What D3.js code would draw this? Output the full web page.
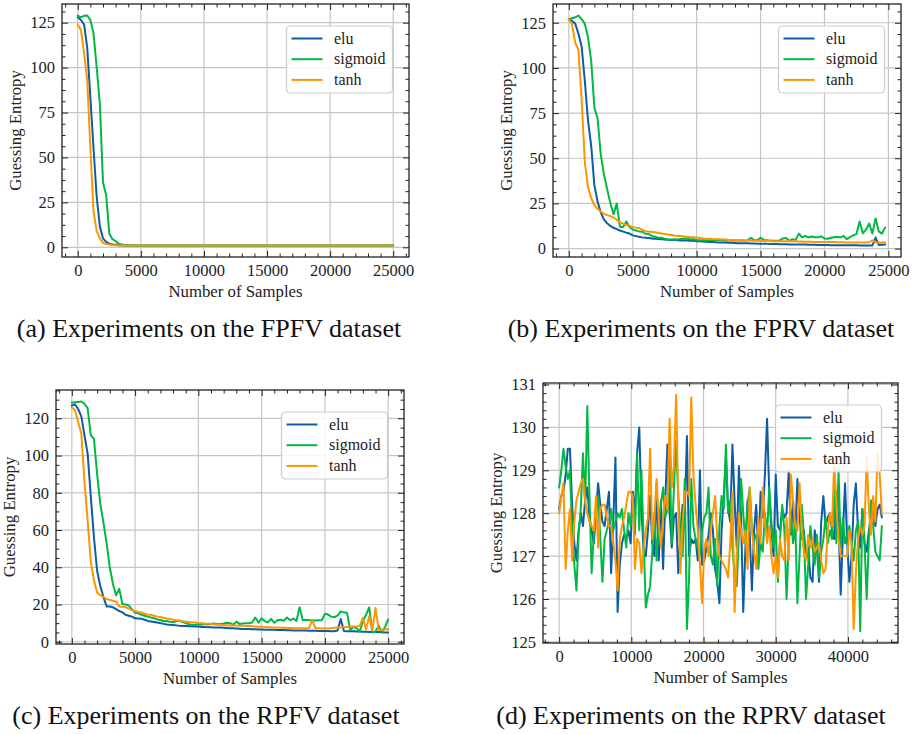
<!DOCTYPE html>
<html>
<head>
<meta charset="utf-8">
<script src="https://cdn.jsdelivr.net/npm/d3@7"></script>
<style>
  body { margin: 0; background: #fff; }
</style>
</head>
<body>
<svg id="chart" width="912" height="734"></svg>
<script>
const FONT = '"Liberation Serif", "DejaVu Serif", serif'

const SERIES_NAMES = ["elu", "sigmoid", "tanh"]
const SERIES_COLORS = ["#0C5DA5", "#00B945", "#FF9500"]

// (a) FPFV: one value every 250 samples, 0..25000
const FPFV_STEP = 250
const FPFV_ELU = [
  128, 126.5, 124, 111, 83, 55, 28, 11.5, 5, 3,
  2, 1.6, 1.4, 1.2, 1.1, 1, 1, 1, 1, 1,
  1, 1, 1, 1, 1, 1, 1, 1, 1, 1,
  1, 1, 1, 1, 1, 1, 1, 1, 1, 1,
  1, 1, 1, 1, 1, 1, 1, 1, 1, 1,
  1, 1, 1, 1, 1, 1, 1, 1, 1, 1,
  1, 1, 1, 1, 1, 1, 1, 1, 1, 1,
  1, 1, 1, 1, 1, 1, 1, 1, 1, 1,
  1, 1, 1, 1, 1, 1, 1, 1, 1, 1,
  1, 1, 1, 1, 1, 1, 1, 1, 1, 1,
  1
]
const FPFV_SIGMOID = [
  129, 128, 128.8, 129, 126.5, 119, 100, 80, 36, 29,
  7.5, 4.5, 3.5, 2, 1.5, 1.3, 1.2, 1.1, 1, 1,
  1, 1, 1, 1, 1, 1, 1, 1, 1, 1,
  1, 1, 1, 1, 1, 1, 1, 1, 1, 1,
  1, 1, 1, 1, 1, 1, 1, 1, 1, 1,
  1, 1, 1, 1, 1, 1, 1, 1, 1, 1,
  1, 1, 1, 1, 1, 1, 1, 1, 1, 1,
  1, 1, 1, 1, 1, 1, 1, 1, 1, 1,
  1, 1, 1, 1, 1, 1, 1, 1, 1, 1,
  1, 1, 1, 1, 1, 1, 1, 1, 1, 1,
  1
]
const FPFV_TANH = [
  124, 121, 108, 93, 55, 20, 9, 5, 2.5, 1.8,
  1.5, 1.3, 1.2, 1, 1, 1, 1, 1, 1, 1,
  1, 1, 1, 1, 1, 1, 1, 1, 1, 1,
  1, 1, 1, 1, 1, 1, 1, 1, 1, 1,
  1, 1, 1, 1, 1, 1, 1, 1, 1, 1,
  1, 1, 1, 1, 1, 1, 1, 1, 1, 1,
  1, 1, 1, 1, 1, 1, 1, 1, 1, 1,
  1, 1, 1, 1, 1, 1, 1, 1, 1, 1,
  1, 1, 1, 1, 1, 1, 1, 1, 1, 1,
  1, 1, 1, 1, 1, 1, 1, 1, 1, 1,
  1
]

// (b) FPRV: one value every 250 samples, 0..24750
const FPRV_STEP = 250
const FPRV_ELU = [
  127, 126, 124.5, 119, 112, 93, 71, 57, 35, 26,
  20, 16, 14, 12.5, 11.5, 10.8, 10, 9.4, 8.8, 8.3,
  7.3, 6.9, 6.5, 6.2, 6.0, 5.8, 5.6, 5.4, 5.3, 5.1,
  5.0, 4.9, 4.8, 4.7, 4.6, 4.5, 4.4, 4.4, 4.3, 4.3,
  4.1, 4.0, 3.9, 3.8, 3.7, 3.6, 3.5, 3.4, 3.4, 3.3,
  3.2, 3.2, 3.1, 3.0, 3.0, 2.9, 2.9, 2.8, 2.8, 2.7,
  2.7, 2.6, 2.6, 2.5, 2.5, 2.5, 2.4, 2.4, 2.4, 2.3,
  2.3, 2.3, 2.2, 2.2, 2.2, 2.1, 2.1, 2.1, 2.0, 2.0,
  2.0, 2.0, 1.9, 1.9, 1.9, 1.9, 1.8, 1.8, 1.8, 1.8,
  1.8, 1.7, 1.7, 1.7, 1.7, 1.7, 6.1, 2.0, 2.1, 2.2
]
const FPRV_SIGMOID = [
  127, 127.5, 128, 129, 127, 124.5, 117, 104, 78, 72,
  52, 41, 33, 25, 19, 25, 12, 12, 15, 12,
  10.5, 10, 9.5, 9.3, 8.2, 8.0, 7.0, 6.5, 6.0, 6.0,
  5.5, 5.2, 5.0, 5.2, 5.0, 5.3, 5.6, 5.4, 5.1, 5.2,
  4.7, 4.6, 4.6, 4.5, 4.7, 4.4, 4.5, 4.9, 4.6, 4.5,
  4.6, 4.4, 4.5, 4.5, 4.6, 4.4, 4.6, 6.0, 4.6, 4.7,
  6.0, 4.8, 4.6, 4.4, 4.3, 4.3, 4.5, 5.6, 5.8, 4.3,
  5.2, 4.8, 8.3, 6.2, 7.0, 6.1, 6.7, 6.3, 6.2, 6.8,
  5.6, 5.4, 6.0, 6.3, 6.5, 6.1, 7.0, 5.2, 6.3, 7.3,
  8.0, 15.0, 8.5, 10.5, 13.9, 8.3, 16.7, 9.5, 8.3, 11.7
]
const FPRV_TANH = [
  127, 124, 114, 110, 83, 48, 34, 28, 24, 22,
  20.5, 19.2, 18.5, 18, 17.2, 16, 14.5, 13.8, 13, 12.6,
  12, 11.6, 11.3, 10.4, 9.6, 9.4, 9.2, 9.0, 8.6, 8.3,
  8.0, 7.8, 7.5, 7.2, 7.0, 6.9, 6.7, 6.5, 6.3, 6.2,
  6.1, 5.8, 5.6, 5.5, 5.4, 5.3, 5.2, 5.1, 5.0, 5.0,
  4.8, 4.7, 4.6, 4.6, 4.5, 4.5, 4.4, 4.4, 4.3, 4.3,
  4.3, 4.2, 4.2, 4.2, 4.1, 4.1, 4.1, 4.0, 4.0, 4.0,
  4.1, 4.0, 3.9, 3.9, 3.8, 3.8, 3.8, 3.7, 3.7, 3.7,
  3.7, 3.6, 3.6, 3.6, 3.5, 3.5, 3.5, 3.4, 3.4, 3.4,
  3.4, 3.3, 3.3, 3.3, 3.5, 4.6, 3.4, 3.3, 3.3, 3.3
]

// (c) RPFV: one value every 250 samples, 0..25000
const RPFV_STEP = 250
const RPFV_ELU = [
  126.8, 127.5, 125, 121, 111, 101, 78, 56, 38, 30,
  24, 19, 18.9, 18.5, 17.5, 16.5, 15.8, 14.5, 14.0, 13.5,
  12.6, 12.5, 12.4, 11.8, 11.2, 10.9, 10.6, 10.3, 10.0, 9.6,
  9.3, 9.1, 9.0, 8.8, 8.6, 8.5, 8.4, 8.3, 8.3, 8.2,
  8.2, 7.9, 7.9, 7.8, 7.8, 7.7, 7.6, 7.6, 7.5, 7.4,
  7.3, 7.2, 7.1, 7.0, 6.9, 6.9, 6.8, 6.7, 6.7, 6.6,
  6.6, 6.5, 6.5, 6.4, 6.4, 6.3, 6.3, 6.3, 6.2, 6.2,
  6.1, 6.1, 6.0, 6.0, 6.0, 5.9, 5.9, 5.9, 5.8, 5.8,
  5.8, 5.8, 5.7, 5.7, 6.0, 12.2, 5.8, 5.7, 5.6, 5.6,
  5.5, 5.5, 5.4, 5.4, 5.3, 5.3, 5.2, 5.2, 5.1, 5.0,
  5.0
]
const RPFV_SIGMOID = [
  128.4, 128.6, 128.8, 129, 127.8, 125.5, 111, 109, 90, 74,
  64, 53, 40, 31, 25, 28.4, 20.3, 20.0, 19.4, 17.5,
  15.6, 15.3, 14.5, 14.0, 13.5, 13.0, 12.6, 12.0, 11.7, 11.0,
  11.2, 10.8, 10.5, 11.0, 11.3, 10.6, 10.0, 9.4, 9.0, 9.1,
  9.4, 9.2, 9.5, 9.3, 9.6, 9.8, 9.5, 9.5, 9.8, 10.2,
  10.0, 9.2, 10.8, 9.6, 9.8, 10.0, 9.9, 10.3, 13.0, 10.2,
  12.6, 11.0, 10.5, 12.3, 10.2, 11.5, 11.8, 11.2, 13.0, 11.5,
  12.5, 11.2, 18.5, 11.5, 11.8, 11.6, 11.5, 11.4, 11.6, 11.5,
  15.0, 14.6, 13.5, 13.2, 14.0, 16.3, 15.8, 15.5, 6.3, 8.0,
  7.3, 5.5, 11.0, 14.5, 18.5, 5.0, 5.5, 8.6, 5.0, 8.0,
  12.0
]
const RPFV_TANH = [
  125.7, 124.5, 118, 111.9, 86, 65, 43, 33, 26.5, 25,
  24, 23, 22.5, 22, 21.5, 19, 18.8, 18.6, 17.8, 17.0,
  16.5, 16.0, 15.8, 15.0, 14.7, 14.5, 14.0, 13.5, 13.3, 12.8,
  12.5, 12.3, 11.8, 11.5, 11.3, 11.0, 10.8, 10.6, 10.4, 10.3,
  10.1, 10.0, 9.8, 9.7, 9.5, 9.4, 9.2, 9.1, 9.0, 8.9,
  8.8, 8.8, 8.7, 8.6, 8.6, 8.5, 8.4, 8.3, 8.2, 8.1,
  8.0, 7.9, 7.8, 7.8, 7.7, 7.6, 7.5, 7.5, 7.4, 7.4,
  7.3, 7.3, 7.2, 7.3, 7.3, 7.3, 11.7, 7.3, 7.2, 7.1,
  7.1, 7.2, 7.3, 7.5, 7.6, 7.7, 7.8, 7.9, 8.0, 8.2,
  8.3, 8.5, 12.9, 6.7, 13.8, 6.2, 18.2, 6.5, 6.4, 6.6,
  6.8
]

// (d) RPRV: one value every 300 samples, 0..44700
const RPRV_STEP = 300
const RPRV_ELU = [
  128.1, 128.4, 128.5, 128.9, 129.5, 129.5, 128.2, 127.3, 126.9, 127.6,
  128.0, 127.7, 128.3, 128.6, 127.9, 127.6, 127.3, 128.0, 128.7, 128.2,
  127.8, 127.7, 128.1, 128.5, 126.6, 127.8, 129.3, 125.7, 126.8, 127.3,
  127.5, 127.4, 127.6, 127.3, 128.5, 128.0, 129.4, 130.0, 128.1, 127.1,
  127.0, 127.6, 128.4, 127.3, 127.0, 128.7, 126.9, 128.3, 126.7, 128.3,
  129.6, 128.0, 127.2, 127.9, 128.0, 126.6, 127.5, 128.2, 128.0, 129.8,
  127.0, 127.4, 127.3, 127.4, 126.9, 129.0, 126.8, 126.9, 127.2, 127.5,
  128.0, 127.6, 126.7, 126.4, 125.9, 127.6, 128.4, 129.3, 128.1, 127.8,
  129.6, 128.3, 127.2, 129.1, 127.9, 125.7, 127.2, 128.3, 127.5, 126.2,
  127.6, 128.2, 127.0, 128.5, 127.9, 128.9, 130.2, 128.5, 127.6, 127.0,
  128.9, 127.7, 127.6, 128.1, 127.9, 128.0, 129.0, 127.5, 128.3, 127.4,
  128.8, 127.9, 127.4, 127.6, 126.9, 127.2, 126.5, 126.4, 127.6, 127.2,
  126.4, 127.8, 128.4, 127.7, 127.9, 128.0, 127.6, 127.4, 128.5, 127.8,
  126.1, 127.5, 128.7, 127.3, 126.4, 127.0, 128.2, 128.7, 127.6, 127.2,
  128.1, 127.3, 127.1, 127.6, 127.9, 128.2, 127.7, 128.1, 128.2, 127.9
]
const RPRV_SIGMOID = [
  128.6, 129.0, 129.5, 129.1, 128.8, 129.0, 127.6, 126.8, 126.2, 127.5,
  128.1, 129.4, 128.2, 130.5, 128.4, 126.6, 127.5, 127.9, 128.4, 127.4,
  126.4, 127.4, 127.6, 127.8, 128.1, 127.6, 127.8, 128.0, 127.9, 128.1,
  127.6, 127.2, 128.0, 127.7, 128.3, 127.5, 129.4, 127.6, 129.0, 127.4,
  125.8, 126.1, 126.3, 127.1, 128.0, 126.9, 127.8, 128.2, 128.6, 127.9,
  128.1, 129.4, 127.3, 128.6, 129.7, 128.4, 127.5, 127.0, 128.8, 125.3,
  126.5, 128.8, 127.7, 127.4, 127.2, 127.0, 127.6, 127.9, 128.0, 128.6,
  127.0, 126.8, 127.4, 126.3, 127.7, 128.4, 128.1, 129.6, 128.0, 128.3,
  127.2, 126.6, 126.3, 127.5, 128.8, 128.0, 127.3, 128.2, 128.6, 127.6,
  127.4, 127.5, 126.7, 127.3, 127.1, 128.0, 127.5, 128.6, 127.8, 127.2,
  127.6, 126.4, 127.4, 128.2, 127.6, 126.0, 127.3, 128.0, 127.3, 127.8,
  125.9, 127.0, 128.2, 127.5, 126.0, 126.8, 127.7, 127.2, 126.8, 127.5,
  126.5, 127.1, 127.4, 127.9, 127.3, 127.6, 127.4, 128.6, 127.3, 129.0,
  127.2, 127.9, 127.3, 127.5, 127.7, 127.3, 126.9, 127.6, 127.8, 125.25,
  128.1, 127.3, 126.0, 127.4, 128.3, 127.7, 127.1, 127.0, 126.9, 127.7
]
const RPRV_TANH = [
  128.0, 128.4, 128.7, 126.7, 127.6, 128.1, 126.9, 127.8, 128.3, 128.5,
  128.7, 128.8, 128.3, 128.0, 127.8, 127.7, 127.6, 128.4, 127.2, 128.1,
  128.2, 128.2, 127.9, 127.7, 127.7, 127.3, 126.9, 126.2, 127.4, 127.7,
  127.9, 128.2, 128.5, 128.5, 128.4, 126.7, 127.4, 127.3, 126.6, 127.2,
  127.6, 127.9, 129.5, 127.4, 127.9, 128.8, 127.8, 127.2, 127.9, 128.4,
  128.1, 130.2, 128.6, 129.1, 130.76, 128.3, 126.6, 127.8, 128.5, 128.5,
  128.4, 130.7, 128.9, 128.2, 127.6, 126.8, 125.9, 127.2, 127.4, 127.0,
  127.6, 128.0, 128.4, 127.4, 127.0, 126.9, 126.8, 126.7, 126.5, 127.3,
  128.5, 125.7, 127.0, 128.0, 127.6, 127.3, 127.6, 126.7, 128.6, 127.6,
  127.1, 126.7, 127.9, 127.3, 128.6, 127.8, 127.3, 127.7, 127.0, 126.6,
  127.0, 126.5, 127.4, 127.0, 126.9, 127.9, 126.9, 128.9, 128.3, 127.7,
  127.6, 128.7, 127.6, 127.1, 126.9, 127.5, 127.2, 127.4, 127.1, 127.2,
  127.3, 126.9, 126.6, 126.7, 127.6, 128.0, 127.7, 129.2, 128.2, 127.4,
  127.0, 127.0, 127.0, 127.0, 127.6, 127.3, 125.3, 126.6, 127.4, 127.7,
  127.5, 127.7, 129.3, 128.1, 127.5, 128.4, 127.8, 129.4, 128.9, 128.0
]

// tick labels
const X_TICKS_25K = [0, 5000, 10000, 15000, 20000, 25000]
const Y_TICKS_25 = [0, 25, 50, 75, 100, 125]
const Y_TICKS_20 = [0, 20, 40, 60, 80, 100, 120]
const X_TICKS_40K = [0, 10000, 20000, 30000, 40000]
const Y_TICKS_RPRV = [125, 126, 127, 128, 129, 130, 131]

const X_LABEL = "Number of Samples"
const Y_LABEL = "Guessing Entropy"

const PANELS = [
  {
    caption: "(a) Experiments on the FPFV dataset",
    step: FPFV_STEP, series: [FPFV_ELU, FPFV_SIGMOID, FPFV_TANH],
    xTicks: X_TICKS_25K, xMinor: 5, yTicks: Y_TICKS_25, yMinor: 4,
    box: { left: 62, right: 409, top: 4, bottom: 257 },
    captionPos: [209, 337]
  },
  {
    caption: "(b) Experiments on the FPRV dataset",
    step: FPRV_STEP, series: [FPRV_ELU, FPRV_SIGMOID, FPRV_TANH],
    xTicks: X_TICKS_25K, xMinor: 5, yTicks: Y_TICKS_25, yMinor: 4,
    box: { left: 553, right: 901, top: 4, bottom: 257 },
    captionPos: [701, 337]
  },
  {
    caption: "(c) Experiments on the RPFV dataset",
    step: RPFV_STEP, series: [RPFV_ELU, RPFV_SIGMOID, RPFV_TANH],
    xTicks: X_TICKS_25K, xMinor: 5, yTicks: Y_TICKS_20, yMinor: 4,
    box: { left: 56, right: 404, top: 390, bottom: 644 },
    captionPos: [206, 724]
  },
  {
    caption: "(d) Experiments on the RPRV dataset",
    step: RPRV_STEP, series: [RPRV_ELU, RPRV_SIGMOID, RPRV_TANH],
    xTicks: X_TICKS_40K, xMinor: 5, yTicks: Y_TICKS_RPRV, yMinor: 5,
    box: { left: 543, right: 898, top: 383, bottom: 643 },
    captionPos: [691, 724]
  }
]

const svg = d3.select("#chart")
svg.append("rect").attr("width", 912).attr("height", 734).attr("fill", "#fff")

// minor ticks between the majors, like matplotlib's AutoMinorLocator
function minorTicks(major, ndivs, domain) {
  const m = (major[1] - major[0]) / ndivs
  const out = []
  const start = Math.ceil(domain[0] / m)
  const end = Math.floor(domain[1] / m)
  for (let k = start; k <= end; k++) {
    if (k % ndivs !== 0) out.push(k * m)
  }
  return out
}

function styleAxis(g, size) {
  g.attr("font-family", FONT).attr("font-size", size).attr("color", "#222")
  g.select(".domain").remove()
  g.selectAll(".tick line").attr("stroke-width", 1)
}

function drawPanel(p) {
  const { left, right, top, bottom } = p.box
  const g = svg.append("g")

  const n = d3.max(p.series, s => s.length)
  const xMax = (n - 1) * p.step
  const x = d3.scaleLinear()
    .domain([-xMax * 0.05, xMax * 1.05])
    .range([left, right])

  const [lo, hi] = d3.extent(p.series.flat())
  const pad = (hi - lo) * 0.05
  const y = d3.scaleLinear()
    .domain([lo - pad, hi + pad])
    .range([bottom, top])

  // grid
  g.append("g").selectAll("line.gx")
    .data(p.xTicks)
    .join("line")
    .attr("x1", d => x(d)).attr("x2", d => x(d))
    .attr("y1", top).attr("y2", bottom)
    .attr("stroke", "#c6c6c6").attr("stroke-width", 1.2)
  g.append("g").selectAll("line.gy")
    .data(p.yTicks)
    .join("line")
    .attr("x1", left).attr("x2", right)
    .attr("y1", d => y(d)).attr("y2", d => y(d))
    .attr("stroke", "#c6c6c6").attr("stroke-width", 1.2)

  // series
  const line = d3.line()
    .x((d, i) => x(i * p.step))
    .y(d => y(d))
  p.series.forEach((s, k) => {
    g.append("path")
      .datum(s)
      .attr("d", line)
      .attr("fill", "none")
      .attr("stroke", SERIES_COLORS[k])
      .attr("stroke-width", 2)
      .attr("stroke-linejoin", "round")
      .attr("stroke-linecap", "round")
  })

  const xMinorTicks = minorTicks(p.xTicks, p.xMinor, x.domain())
  const yMinorTicks = minorTicks(p.yTicks, p.yMinor, y.domain())

  // ticks point inward on all four sides
  g.append("g").attr("transform", `translate(0,${bottom})`)
    .call(d3.axisBottom(x).tickValues(p.xTicks).tickSize(-6).tickPadding(7).tickFormat(d3.format("d")))
    .call(a => styleAxis(a, 16.5))
  g.append("g").attr("transform", `translate(0,${bottom})`)
    .call(d3.axisBottom(x).tickValues(xMinorTicks).tickSize(-3.5).tickFormat(""))
    .call(a => styleAxis(a, 10))
  g.append("g").attr("transform", `translate(0,${top})`)
    .call(d3.axisTop(x).tickValues(p.xTicks).tickSize(-6).tickFormat(""))
    .call(a => styleAxis(a, 10))
  g.append("g").attr("transform", `translate(0,${top})`)
    .call(d3.axisTop(x).tickValues(xMinorTicks).tickSize(-3.5).tickFormat(""))
    .call(a => styleAxis(a, 10))

  g.append("g").attr("transform", `translate(${left},0)`)
    .call(d3.axisLeft(y).tickValues(p.yTicks).tickSize(-6).tickPadding(7).tickFormat(d3.format("d")))
    .call(a => styleAxis(a, 16.5))
  g.append("g").attr("transform", `translate(${left},0)`)
    .call(d3.axisLeft(y).tickValues(yMinorTicks).tickSize(-3.5).tickFormat(""))
    .call(a => styleAxis(a, 10))
  g.append("g").attr("transform", `translate(${right},0)`)
    .call(d3.axisRight(y).tickValues(p.yTicks).tickSize(-6).tickFormat(""))
    .call(a => styleAxis(a, 10))
  g.append("g").attr("transform", `translate(${right},0)`)
    .call(d3.axisRight(y).tickValues(yMinorTicks).tickSize(-3.5).tickFormat(""))
    .call(a => styleAxis(a, 10))

  // frame
  g.append("rect")
    .attr("x", left).attr("y", top)
    .attr("width", right - left).attr("height", bottom - top)
    .attr("fill", "none").attr("stroke", "#222").attr("stroke-width", 1.3)

  // axis labels
  g.append("text")
    .attr("x", (left + right) / 2).attr("y", bottom + 40)
    .attr("text-anchor", "middle")
    .attr("font-family", FONT).attr("font-size", 16.8).attr("fill", "#222")
    .text(X_LABEL)
  g.append("text")
    .attr("transform", `translate(${left - 46.5},${(top + bottom) / 2}) rotate(-90)`)
    .attr("dy", "0.35em")
    .attr("text-anchor", "middle")
    .attr("font-family", FONT).attr("font-size", 16.8).attr("fill", "#222")
    .text(Y_LABEL)

  // legend, upper right
  const lw = 106, lh = 67
  const lx = right - 16.5 - lw, ly = top + 22
  const leg = g.append("g").attr("transform", `translate(${lx},${ly})`)
  leg.append("rect")
    .attr("width", lw).attr("height", lh).attr("rx", 4)
    .attr("fill", "#fff").attr("fill-opacity", 0.85)
    .attr("stroke", "#cccccc").attr("stroke-width", 1.2)
  SERIES_NAMES.forEach((name, k) => {
    const cy = 12.5 + k * 20.7
    leg.append("line")
      .attr("x1", 5).attr("x2", 36)
      .attr("y1", cy).attr("y2", cy)
      .attr("stroke", SERIES_COLORS[k]).attr("stroke-width", 2)
    leg.append("text")
      .attr("x", 47.5).attr("y", cy).attr("dy", "0.32em")
      .attr("font-family", FONT).attr("font-size", 16).attr("fill", "#222")
      .text(name)
  })

  // sub-figure caption
  svg.append("text")
    .attr("x", p.captionPos[0]).attr("y", p.captionPos[1])
    .attr("text-anchor", "middle")
    .attr("font-family", FONT).attr("font-size", 26).attr("fill", "#111")
    .text(p.caption)
}

PANELS.forEach(drawPanel)
</script>
</body>
</html>
